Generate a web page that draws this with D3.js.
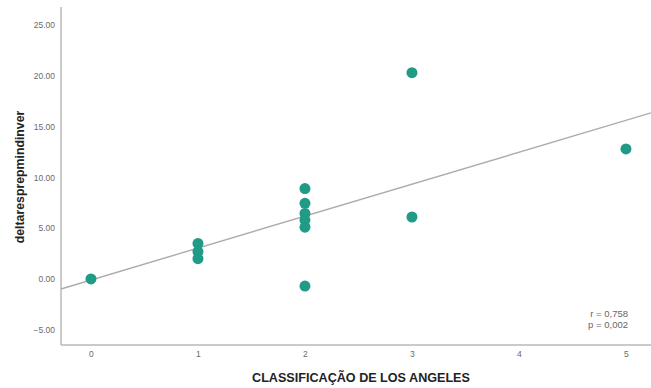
<!DOCTYPE html>
<html>
<head>
<meta charset="utf-8">
<script src="https://cdn.jsdelivr.net/npm/d3@7"></script>
<style>
  html, body { margin: 0; padding: 0; background: #fff; }
  svg { display: block; font-family: "Liberation Sans", Arial, sans-serif; }
</style>
</head>
<body>
<svg id="chart" width="651" height="388"></svg>
<script>
// Los Angeles classification (x) vs. deltaresprepmindinver (y)
const classes = [0, 1, 1, 1, 2, 2, 2, 2, 2, 2, 3, 3, 5];
const deltas  = [0.0, 3.5, 2.7, 2.0, 8.9, 7.45, 6.45, 5.8, 5.1, -0.7, 20.3, 6.1, 12.8];
const xTicks = [0, 1, 2, 3, 4, 5];
const yTicks = [-5, 0, 5, 10, 15, 20, 25];
const statLines = ["r = 0,758", "p = 0,002"];
const xTitle = "CLASSIFICAÇÃO DE LOS ANGELES";
const yTitle = "deltaresprepmindinver";

const svg = d3.select("#chart");
const plot = { left: 61, right: 651, top: 7, bottom: 345 };

const x = d3.scaleLinear().domain([-0.28, 5.234]).range([plot.left, plot.right]);
const y = d3.scaleLinear().domain([-6.5, 26.77]).range([plot.bottom, plot.top]);

const axisColor = "#b8b8b8";
const labelColor = "#6a6a6a";

// axis lines
svg.append("line")
  .attr("x1", plot.left).attr("x2", plot.left)
  .attr("y1", plot.top).attr("y2", plot.bottom)
  .attr("stroke", axisColor).attr("stroke-width", 1.5);
svg.append("line")
  .attr("x1", plot.left).attr("x2", plot.right)
  .attr("y1", plot.bottom).attr("y2", plot.bottom)
  .attr("stroke", axisColor).attr("stroke-width", 1.5);

// y tick labels
const yAxis = svg.append("g")
  .attr("transform", `translate(${plot.left},0)`)
  .call(d3.axisLeft(y).tickValues(yTicks).tickSize(0).tickPadding(6)
    .tickFormat(d3.format(".2f")));
yAxis.select(".domain").remove();
yAxis.selectAll("text").attr("fill", labelColor).attr("font-size", 8.5)
  .attr("font-family", "Liberation Sans, Arial, sans-serif");

// x tick labels
const xAxis = svg.append("g")
  .attr("transform", `translate(0,${plot.bottom})`)
  .call(d3.axisBottom(x).tickValues(xTicks).tickSize(0).tickPadding(6)
    .tickFormat(d3.format("d")));
xAxis.select(".domain").remove();
xAxis.selectAll("text").attr("fill", labelColor).attr("font-size", 8.5)
  .attr("font-family", "Liberation Sans, Arial, sans-serif");

// least-squares fit line
const n = classes.length;
const mx = d3.mean(classes), my = d3.mean(deltas);
let sxy = 0, sxx = 0;
for (let i = 0; i < n; i++) {
  sxy += (classes[i] - mx) * (deltas[i] - my);
  sxx += (classes[i] - mx) ** 2;
}
const slope = sxy / sxx, intercept = my - slope * mx;
const [x0, x1] = x.domain();
svg.append("line")
  .attr("x1", x(x0)).attr("y1", y(intercept + slope * x0))
  .attr("x2", x(x1)).attr("y2", y(intercept + slope * x1))
  .attr("stroke", "#acacac").attr("stroke-width", 1.4);

// points
svg.append("g").selectAll("circle")
  .data(classes.map((c, i) => ({ c, v: deltas[i] })))
  .join("circle")
  .attr("cx", d => x(d.c))
  .attr("cy", d => y(d.v))
  .attr("r", 5.5)
  .attr("fill", "#1f9b86");

// correlation note
svg.append("text")
  .attr("x", 628).attr("y", 317)
  .attr("text-anchor", "end")
  .attr("font-size", 9.5).attr("fill", "#666")
  .selectAll("tspan").data(statLines).join("tspan")
  .attr("x", 628).attr("dy", (d, i) => i ? 10.5 : 0)
  .text(d => d);

// axis titles
svg.append("text")
  .attr("x", 361).attr("y", 382)
  .attr("text-anchor", "middle")
  .attr("font-size", 12.6).attr("font-weight", "bold").attr("fill", "#222")
  .text(xTitle);
svg.append("text")
  .attr("transform", `translate(23.5,177) rotate(-90)`)
  .attr("text-anchor", "middle")
  .attr("font-size", 12.3).attr("font-weight", "bold").attr("fill", "#222")
  .text(yTitle);
</script>
</body>
</html>
